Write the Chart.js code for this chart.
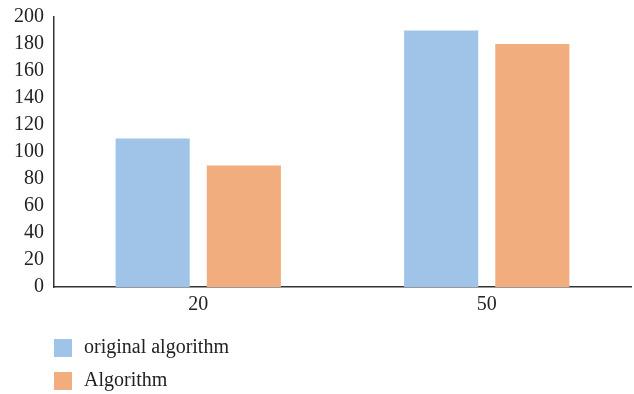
<!DOCTYPE html>
<html>
<head>
<meta charset="utf-8">
<script src="https://cdn.jsdelivr.net/npm/chart.js@4/dist/chart.umd.min.js"></script>
<style>
  html, body { margin: 0; padding: 0; background: #fff; }
  #wrap { width: 634px; height: 394px; }
</style>
</head>
<body>
<div id="wrap"><canvas id="chart"></canvas></div>
<script>
const categories = ['20', '50'];
const originalValues = [110, 190];
const algorithmValues = [90, 180];
const seriesNames = ['original algorithm', 'Algorithm'];
const yTicks = [0, 20, 40, 60, 80, 100, 120, 140, 160, 180, 200];

const fontFamily = '"Liberation Serif", "DejaVu Serif", serif';

// legend drawn by hand: stacked squares at the bottom left
const stackedLegend = {
  id: 'stackedLegend',
  afterDraw(chart) {
    const ctx = chart.ctx;
    const left = chart.chartArea.left;
    ctx.save();
    ctx.font = '20px ' + fontFamily;
    ctx.textBaseline = 'middle';
    chart.data.datasets.forEach((ds, i) => {
      const cy = 348 + i * 33;
      ctx.fillStyle = ds.backgroundColor;
      ctx.fillRect(left, cy - 9, 18, 18);
      ctx.fillStyle = '#222';
      ctx.fillText(ds.label, left + 30, cy);
    });
    ctx.restore();
  }
};

new Chart(document.getElementById('chart'), {
  type: 'bar',
  data: {
    labels: categories,
    datasets: [
      { label: seriesNames[0], data: originalValues, backgroundColor: '#9fc4e7' },
      { label: seriesNames[1], data: algorithmValues, backgroundColor: '#f1ad7d' }
    ]
  },
  options: {
    responsive: true,
    maintainAspectRatio: false,
    animation: false,
    layout: { padding: { top: 17, right: 3, bottom: 71, left: 0 } },
    datasets: {
      bar: { categoryPercentage: 0.632, barPercentage: 0.813 }
    },
    scales: {
      x: {
        grid: { display: false, drawTicks: false },
        border: { display: true, color: '#333', width: 1.5 },
        ticks: { color: '#222', font: { family: fontFamily, size: 20 }, padding: 6 }
      },
      y: {
        min: 0,
        max: 200,
        afterFit(scale) { scale.width = 54; scale.paddingTop = 0; scale.paddingBottom = 0; },
        afterBuildTicks(scale) { scale.ticks = yTicks.map(v => ({ value: v })); },
        grid: { display: false, drawTicks: false },
        border: { display: true, color: '#333', width: 1.5 },
        ticks: { color: '#222', font: { family: fontFamily, size: 20, lineHeight: 0.8 }, padding: 10, autoSkip: false }
      }
    },
    plugins: {
      legend: { display: false },
      tooltip: { enabled: false }
    }
  },
  plugins: [stackedLegend]
});
</script>
</body>
</html>
